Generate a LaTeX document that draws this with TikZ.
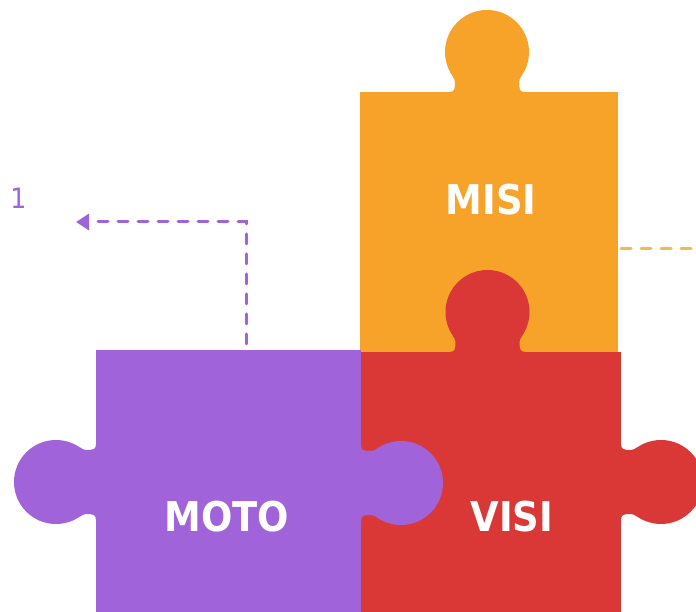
\documentclass[tikz,border=0pt]{standalone}
\usepackage{fontspec}
\setmainfont{DejaVu Sans Condensed}
\usetikzlibrary{arrows.meta}
\definecolor{porange}{HTML}{F7A329}
\definecolor{pred}{HTML}{D93836}
\definecolor{ppurple}{HTML}{A163DA}
\definecolor{dorange}{HTML}{F3BA4F}
\newcommand{\puzTab}[4]{%
 \begin{scope}[shift={(#1,#2)},rotate=#3]
  \fill[#4] (0,40) circle[radius=42pt];
  \fill[#4] (-38,-2) -- (-38,0) .. controls (-33,0) and (-32,3) .. (-32,6)
     .. controls (-32,9) and (-31.5,11.8) .. (-34.4,15.9) -- (-20,30) -- (20,30)
     -- (34.4,15.9) .. controls (31.5,11.8) and (32,9) .. (32,6)
     .. controls (32,3) and (33,0) .. (38,0) -- (38,-2) -- cycle;
 \end{scope}}
\begin{document}
\begin{tikzpicture}[x=1pt,y=1pt,
  label/.style={text=white,font=\fontsize{41}{41}\selectfont\bfseries,inner sep=0pt},
  dashline/.style={line width=3pt,dash pattern=on 10pt off 10pt,line cap=round}]
\useasboundingbox (0,0) rectangle (696,612);
% orange piece
\fill[porange] (360,260) rectangle (618,520);
\puzTab{487}{520}{0}{porange}
% red piece
\fill[pred] (361,-5) rectangle (621,260);
\puzTab{487.5}{260}{0}{pred}
\puzTab{621}{130}{-90}{pred}
% purple piece
\fill[ppurple] (96,-5) rectangle (361,262);
\puzTab{96}{130}{90}{ppurple}
\puzTab{361}{129}{-90}{ppurple}
% labels
\node[label] (misi) at (491,412) {MISI};
\node[label] (moto) at (227,95) {MOTO};
\node[label] (visi) at (512,95) {VISI};
\node[text=ppurple,font=\fontsize{28}{28}\selectfont,inner sep=0pt] (one) at (18.5,413.5) {1};
% connectors
\coordinate (ps) at (246,268);
\coordinate (pc) at (246,390);
\coordinate (pe) at (76,390);
\draw[ppurple,dashline,-{Triangle[length=13pt,width=16pt]}] (ps) -- (pc) -- (pe);
\coordinate (os) at (621,363);
\coordinate (oe) at (700,363);
\draw[dorange,dashline] (os) -- (oe);
\end{tikzpicture}
\end{document}
